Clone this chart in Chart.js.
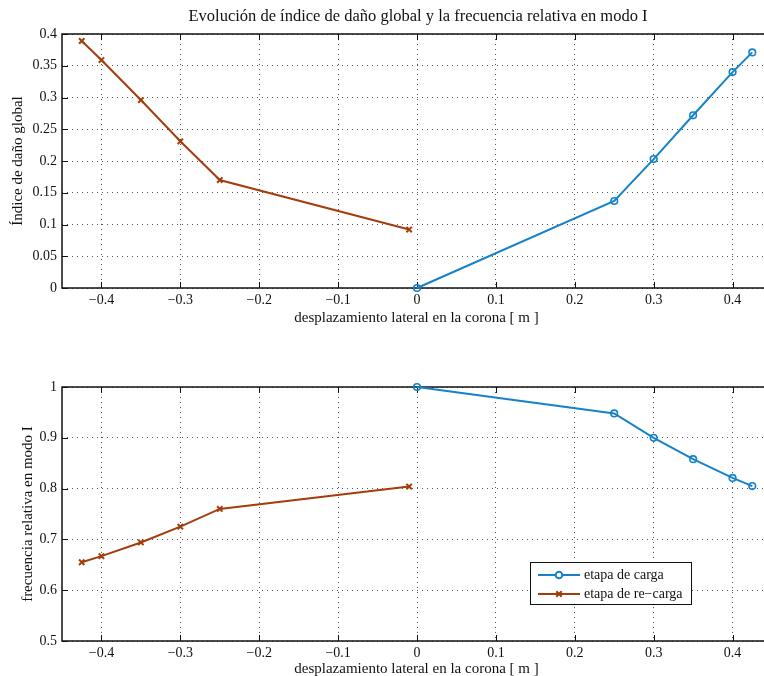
<!DOCTYPE html>
<html>
<head>
<meta charset="utf-8">
<script src="https://cdn.jsdelivr.net/npm/chart.js@4"></script>
<style>
    html, body { margin: 0; padding: 0; background: #fff; overflow: hidden; }
    .panel { position: absolute; left: 0; }
</style>
</head>
<body>
<canvas id="danoChart" class="panel" style="top:0" width="778" height="338"></canvas>
<canvas id="frecChart" class="panel" style="top:338px" width="778" height="338"></canvas>
<script>
// shared x axis
const xTicks = [-0.4, -0.3, -0.2, -0.1, 0, 0.1, 0.2, 0.3, 0.4];
const xTickLabels = ['\u22120.4', '\u22120.3', '\u22120.2', '\u22120.1', '0', '0.1', '0.2', '0.3', '0.4'];

// etapa de carga
const cargaX = [0, 0.25, 0.3, 0.35, 0.4, 0.425];
const cargaDano = [0, 0.137, 0.203, 0.272, 0.340, 0.371];
const cargaFrec = [1.0, 0.948, 0.900, 0.858, 0.821, 0.805];

// etapa de re-carga
const recargaX = [-0.425, -0.4, -0.35, -0.3, -0.25, -0.01];
const recargaDano = [0.389, 0.359, 0.296, 0.231, 0.170, 0.092];
const recargaFrec = [0.655, 0.667, 0.694, 0.725, 0.760, 0.804];

// y ticks
const danoTicks = [0, 0.05, 0.1, 0.15, 0.2, 0.25, 0.3, 0.35, 0.4];
const danoTickLabels = ['0', '0.05', '0.1', '0.15', '0.2', '0.25', '0.3', '0.35', '0.4'];
const frecTicks = [0.5, 0.6, 0.7, 0.8, 0.9, 1];
const frecTickLabels = ['0.5', '0.6', '0.7', '0.8', '0.9', '1'];

const serif = "'Liberation Serif', 'DejaVu Serif', serif";
const blue = '#1682c9';
const brown = '#a33d0c';

function toPoints(xs, ys) {
    return xs.map((x, i) => ({ x: x, y: ys[i] }));
}

function datasets(cargaY, recargaY) {
    return [{
        label: 'etapa de carga',
        data: toPoints(cargaX, cargaY),
        borderColor: blue,
        borderWidth: 2,
        pointStyle: 'circle',
        pointRadius: 3.3,
        pointBorderWidth: 1.6,
        pointBackgroundColor: 'rgba(0,0,0,0)',
        pointBorderColor: blue,
        clip: false
    }, {
        label: 'etapa de re\u2212carga',
        data: toPoints(recargaX, recargaY),
        borderColor: brown,
        borderWidth: 2,
        pointStyle: 'crossRot',
        pointRadius: 3.8,
        pointBorderWidth: 2,
        pointBorderColor: brown,
        clip: false
    }];
}

// box, inward ticks and text drawn like the matlab figure
const frame = {
    id: 'frame',
    beforeDatasetsDraw(chart) {
        const ctx = chart.ctx;
        const a = chart.chartArea;
        const xs = chart.scales.x;
        const ys = chart.scales.y;
        ctx.save();
        ctx.strokeStyle = '#111';
        ctx.lineWidth = 1;
        xs.ticks.forEach(t => {
            const px = Math.round(xs.getPixelForValue(t.value)) + 0.5;
            ctx.beginPath();
            ctx.moveTo(px, a.bottom); ctx.lineTo(px, a.bottom - 6);
            ctx.moveTo(px, a.top); ctx.lineTo(px, a.top + 6);
            ctx.stroke();
        });
        ys.ticks.forEach(t => {
            const py = Math.round(ys.getPixelForValue(t.value)) + 0.5;
            ctx.beginPath();
            ctx.moveTo(a.left, py); ctx.lineTo(a.left + 6, py);
            ctx.moveTo(a.right, py); ctx.lineTo(a.right - 6, py);
            ctx.stroke();
        });
        ctx.lineWidth = 1.5;
        ctx.strokeRect(a.left, a.top, a.right - a.left, a.bottom - a.top);
        ctx.restore();
    },
    afterDraw(chart, args, opts) {
        const ctx = chart.ctx;
        const a = chart.chartArea;
        ctx.save();
        ctx.fillStyle = '#111';
        ctx.textAlign = 'center';
        ctx.textBaseline = 'middle';
        if (opts.title) {
            ctx.font = '16.5px ' + serif;
            ctx.fillText(opts.title, 418, 17);
        }
        ctx.font = '15px ' + serif;
        ctx.fillText(opts.xTitle, (a.left + a.right) / 2 - 0.5, a.bottom + opts.xTitleGap);
        ctx.translate(opts.yTitleX, (a.top + a.bottom) / 2);
        ctx.rotate(-Math.PI / 2);
        ctx.fillText(opts.yTitle, 0, 0);
        ctx.restore();

        if (opts.legend) {
            const L = opts.legend;
            ctx.save();
            ctx.fillStyle = '#fff';
            ctx.fillRect(L.x, L.y, L.w, L.h);
            ctx.strokeStyle = '#111';
            ctx.lineWidth = 1;
            ctx.strokeRect(L.x + 0.5, L.y + 0.5, L.w, L.h);
            chart.data.datasets.forEach((ds, i) => {
                const yy = L.y + 13 + i * 19;
                ctx.strokeStyle = ds.borderColor;
                ctx.lineWidth = 2;
                ctx.beginPath();
                ctx.moveTo(L.x + 8, yy); ctx.lineTo(L.x + 50, yy);
                ctx.stroke();
                Chart.helpers.drawPoint(ctx, {
                    pointStyle: ds.pointStyle, radius: ds.pointRadius,
                    borderWidth: ds.pointBorderWidth, rotation: 0
                }, L.x + 29, yy);
                ctx.fillStyle = '#111';
                ctx.font = '14px ' + serif;
                ctx.textAlign = 'left';
                ctx.textBaseline = 'middle';
                ctx.fillText(ds.label, L.x + 54, yy);
            });
            ctx.restore();
        }
    }
};

function makeChart(id, cargaY, recargaY, yMin, yMax, yTicks, yLabels, padTop, xHeight, extra) {
    return new Chart(document.getElementById(id), {
        type: 'line',
        data: { datasets: datasets(cargaY, recargaY) },
        plugins: [frame],
        options: {
            responsive: false,
            animation: false,
            layout: { padding: { top: padTop, right: 3, left: 0, bottom: 0 } },
            plugins: {
                legend: { display: false },
                tooltip: { enabled: false },
                frame: extra
            },
            scales: {
                x: {
                    type: 'linear',
                    min: -0.45,
                    max: 0.45,
                    afterBuildTicks: s => { s.ticks = xTicks.map(v => ({ value: v })); },
                    afterFit: s => { s.height = xHeight; },
                    border: { display: false, dash: [1, 4] },
                    grid: { color: '#555', lineWidth: 1, drawTicks: false },
                    ticks: {
                        autoSkip: false, maxRotation: 0, padding: 4, color: '#111',
                        font: { family: serif, size: 14 },
                        callback: (v, i) => xTickLabels[i]
                    }
                },
                y: {
                    type: 'linear',
                    min: yMin,
                    max: yMax,
                    afterBuildTicks: s => { s.ticks = yTicks.map(v => ({ value: v })); },
                    afterFit: s => { s.width = 62; },
                    border: { display: false, dash: [1, 4] },
                    grid: { color: '#555', lineWidth: 1, drawTicks: false },
                    ticks: {
                        autoSkip: false, padding: 5, color: '#111',
                        font: { family: serif, size: 14 },
                        callback: (v, i) => yLabels[i]
                    }
                }
            },
            elements: { line: { tension: 0 } }
        }
    });
}

const danoChart = makeChart('danoChart', cargaDano, recargaDano, 0, 0.4,
    danoTicks, danoTickLabels, 34, 50, {
        title: 'Evolución de índice de daño global y la frecuencia relativa en modo I',
        xTitle: 'desplazamiento lateral en la corona [ m ]',
        xTitleGap: 30,
        yTitle: 'Índice de daño global',
        yTitleX: 18
    });

const frecChart = makeChart('frecChart', cargaFrec, recargaFrec, 0.5, 1,
    frecTicks, frecTickLabels, 49, 35, {
        xTitle: 'desplazamiento lateral en la corona [ m ]',
        xTitleGap: 28,
        yTitle: 'frecuencia relativa en modo I',
        yTitleX: 28,
        legend: { x: 530, y: 224, w: 161, h: 42 }
    });
</script>
</body>
</html>
